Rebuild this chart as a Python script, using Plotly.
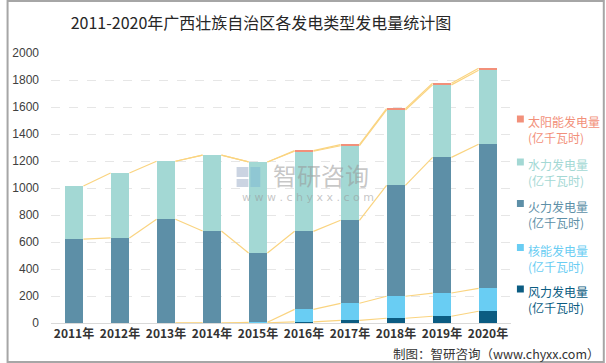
import plotly.graph_objects as go

years = ["2011年", "2012年", "2013年", "2014年", "2015年", "2016年", "2017年", "2018年", "2019年", "2020年"]
wind = [None, None, 0, 0, 2, 9, 20, 35, 50, 87]
nuclear = [None, None, 0, 0, 3, 92, 126, 163, 172, 170]
thermal = [622, 630, 768, 681, 514, 578, 615, 822, 1005, 1067]
hydro = [393, 481, 430, 563, 674, 593, 552, 558, 537, 548]
solar = [None, None, 0, 0, 0, 5, 8, 10, 12, 15]

series_names = ["风力发电量", "核能发电量", "火力发电量", "水力发电量", "太阳能发电量"]
unit = "(亿千瓦时)"
series_vals = [wind, nuclear, thermal, hydro, solar]
colors = ["#0B5C82", "#69CDF3", "#5D8FA7", "#A3D8D4", "#F2907A"]

W = 0.41
L, R, T, B = 45, 95, 53, 40
PW, PH = 606 - L - R, 363 - T - B


def px(x):
    return (x - L) / PW


def py(y):
    return (363 - B - y) / PH


fig = go.Figure()
xs = list(range(len(years)))
for k, (nm, vals, c) in enumerate(zip(series_names, series_vals, colors)):
    fig.add_trace(go.Bar(
        x=xs, y=[v if v is not None else 0 for v in vals], width=W,
        marker=dict(color=c, line=dict(width=0)),
        name=nm + unit, showlegend=False, hoverinfo="skip",
    ))

# series lines connecting tops of stacked segments
cum = [0] * len(years)
lx, ly = [], []
for vals in series_vals:
    top = []
    for i, v in enumerate(vals):
        cum[i] += (v or 0)
        top.append(cum[i] if v is not None else None)
    for i in range(len(years) - 1):
        if top[i] is not None and top[i + 1] is not None:
            lx += [xs[i] + W / 2, xs[i + 1] - W / 2, None]
            ly += [top[i], top[i + 1], None]
fig.add_trace(go.Scatter(x=lx, y=ly, mode="lines", line=dict(color="#FAD480", width=1.2),
                         showlegend=False, hoverinfo="skip"))

font_cjk = "Noto Sans CJK SC, Microsoft YaHei, sans-serif"
fig.update_layout(
    width=606, height=363,
    margin=dict(l=L, r=R, t=T, b=B),
    barmode="stack",
    showlegend=False,
    plot_bgcolor="white", paper_bgcolor="white",
    font=dict(family=font_cjk, color="#404040", size=12),
    title=dict(text="2011-2020年广西壮族自治区各发电类型发电量统计图",
               x=261 / 606, xanchor="center", y=1 - 23 / 363, yanchor="middle",
               font=dict(size=16, color="#262626", family=font_cjk)),
    xaxis=dict(tickmode="array", tickvals=xs, ticktext=[f"<b>{y}</b>" for y in years],
               range=[-0.5, len(years) - 0.5], showgrid=False, showline=True,
               linecolor="#D9D9D9", linewidth=1, ticks="", zeroline=False,
               tickfont=dict(size=12, color="#333333", family="Noto Sans CJK SC, sans-serif")),
    yaxis=dict(range=[0, 2000], dtick=200, showgrid=True, gridcolor="#E6E6E6", griddash="dash",
               gridwidth=1, zeroline=False, showline=False, ticks="",
               ticklabelstandoff=11,
               tickfont=dict(size=12, color="#404040", family="Liberation Sans, Arial, sans-serif")),
)

# manual legend (top to bottom: solar, hydro, thermal, nuclear, wind)
legend_centers = [119, 162, 203.5, 247.5, 289]
for j, k in enumerate(reversed(range(len(series_names)))):
    cy = legend_centers[j]
    c = colors[k]
    fig.add_shape(type="rect", xref="paper", yref="paper",
                  x0=px(517), x1=px(524), y0=py(cy + 3.5), y1=py(cy - 3.5),
                  line=dict(width=0), fillcolor=c)
    fig.add_annotation(text=f"{series_names[k]}<br>{unit}", xref="paper", yref="paper",
                       x=px(526), xanchor="left", y=py(cy - 8), yanchor="top",
                       align="left", showarrow=False,
                       font=dict(size=12, color=c, family=font_cjk))

# watermark
fig.add_annotation(text="智研咨询", xref="paper", yref="paper",
                   x=px(319), y=py(174), yanchor="middle", showarrow=False,
                   font=dict(size=24, color="rgba(150,150,150,0.55)", family=font_cjk))
fig.add_annotation(text="w w w . c h y x x . c o m", xref="paper", yref="paper",
                   x=px(305), y=py(197), yanchor="middle", showarrow=False,
                   font=dict(size=11, color="rgba(150,150,150,0.55)", family="DejaVu Sans"))
# simple logo
for (x0, y0, x1, y1, c) in [(233, 167, 245, 177, "rgba(140,160,190,0.45)"),
                            (247, 167, 257, 187, "rgba(120,180,210,0.45)"),
                            (233, 179, 245, 187, "rgba(140,160,190,0.45)")]:
    fig.add_shape(type="rect", xref="paper", yref="paper",
                  x0=px(x0), x1=px(x1), y0=py(y1), y1=py(y0),
                  line=dict(width=0), fillcolor=c, layer="above")

# source
fig.add_annotation(text="制图：智研咨询（www.chyxx.com）", xref="paper", yref="paper",
                   x=px(603), xanchor="right", y=py(354), yanchor="middle",
                   showarrow=False, font=dict(size=12.5, color="#333333", family=font_cjk))

# border
fig.add_shape(type="rect", xref="paper", yref="paper",
              x0=px(1), x1=px(605), y0=py(362), y1=py(1),
              line=dict(color="#A6A6A6", width=2), fillcolor="rgba(0,0,0,0)", layer="above")

fig.write_html("out.html", config={"displayModeBar": False},
               post_script="document.body.style.margin='0';document.body.style.overflow='hidden';")
